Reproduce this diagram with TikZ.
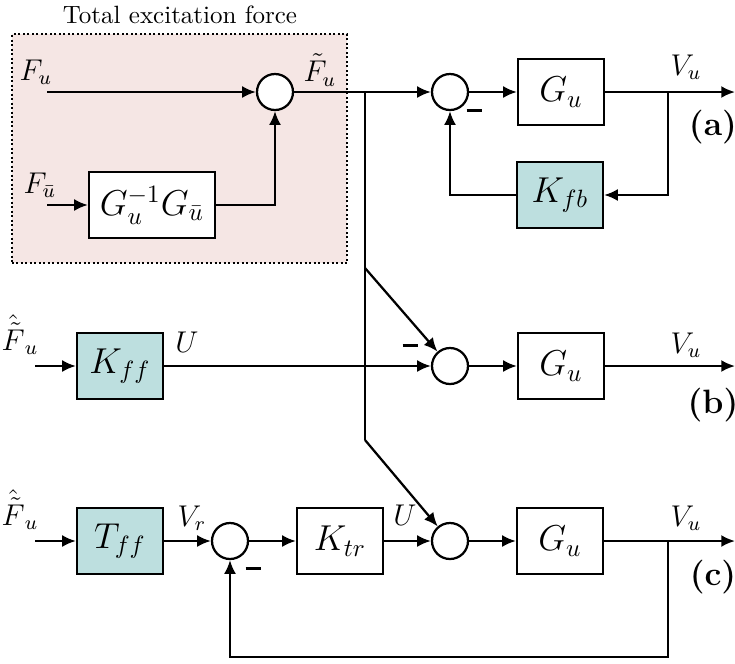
\documentclass[tikz,border=0pt]{standalone}
\usetikzlibrary{arrows.meta}
\definecolor{pinkbg}{RGB}{245,230,228}
\definecolor{tealbox}{RGB}{189,223,223}
\begin{document}
\begin{tikzpicture}[x=0.4pt,y=-0.4pt,
  blk/.style={draw,line width=0.9pt,minimum width=34.4pt,minimum height=26.4pt,inner sep=0pt,font=\Large,fill=white},
  gain/.style={blk,fill=tealbox},
  sumj/.style={draw,circle,line width=0.9pt,minimum size=14.4pt,inner sep=0pt,fill=white},
  sig/.style={line width=0.9pt,-{Latex[length=5.5pt,width=4.8pt]}},
  wire/.style={line width=0.9pt},
  lbl/.style={inner sep=0pt,font=\large},
  minus/.style={inner sep=0pt},
  tag/.style={font=\fontsize{13.5}{16}\selectfont\bfseries,inner sep=0pt}]
\useasboundingbox (0,0) rectangle (735,663);
% excitation region
\node (exc) [draw,densely dotted,line width=0.8pt,fill=pinkbg,minimum width=134pt,minimum height=91.6pt,inner sep=0pt] at (179.5,148.5) {};
\node (title) [inner sep=0pt] at (180,15) {Total excitation force};
% nodes
\node (s0) [sumj] at (275,92) {};
\node (G0) [blk,minimum width=50.4pt] at (152,205) {$G_u^{-1}G_{\bar u}$};
\coordinate (cFu) at (47,92);
\coordinate (cFub) at (47,205);
\node (lFu) [lbl] at (36,72) {$F_u$};
\node (lFub) [lbl] at (40,185) {$F_{\bar u}$};
\node (lFt) [lbl] at (320,70) {$\tilde F_u$};
% row (a)
\node (sa) [sumj] at (450,92) {};
\node (Ga) [blk] at (561,92) {$G_u$};
\node (Kfb) [gain] at (560,195) {$K_{fb}$};
\coordinate (ja) at (668,92);
\coordinate (oa) at (735,92);
\coordinate (br0) at (365,92);
\coordinate (br1) at (365,268);
\coordinate (br2) at (365,440);
% row (b)
\coordinate (ib) at (35,366);
\node (Kff) [gain] at (120,366) {$K_{ff}$};
\node (sb) [sumj] at (450,366) {};
\node (Gb) [blk] at (561,366) {$G_u$};
\coordinate (ob) at (735,366);
% row (c)
\coordinate (ic) at (35,541);
\node (Tff) [gain] at (120,541) {$T_{ff}$};
\node (sc1) [sumj] at (230,541) {};
\node (Ktr) [blk] at (340,541) {$K_{tr}$};
\node (sc2) [sumj] at (450,541) {};
\node (Gc) [blk] at (560,541) {$G_u$};
\coordinate (jc) at (668,541);
\coordinate (oc) at (735,541);
\coordinate (fbc) at (668,657);
% connectors
\draw[sig] (cFu) -- (s0);
\draw[sig] (cFub) -- (G0);
\draw[sig] (G0.east) -| (s0.south);
\draw[sig] (s0) -- (sa);
\draw[wire] (br0) -- (br2);
\draw[sig] (br1) -- (sb);
\draw[sig] (br2) -- (sc2);
\draw[sig] (sa) -- (Ga);
\draw[sig] (Ga) -- (oa);
\draw[sig] (ja) |- (Kfb.east);
\draw[sig] (Kfb.west) -| (sa.south);
\draw[sig] (ib) -- (Kff);
\draw[sig] (Kff) -- (sb);
\draw[sig] (sb) -- (Gb);
\draw[sig] (Gb) -- (ob);
\draw[sig] (ic) -- (Tff);
\draw[sig] (Tff) -- (sc1);
\draw[sig] (sc1) -- (Ktr);
\draw[sig] (Ktr) -- (sc2);
\draw[sig] (sc2) -- (Gc);
\draw[sig] (Gc) -- (oc);
\draw[sig] (jc) -- (fbc) -| (sc1.south);
% minus signs
\node (ma) [minus] at (474,110) {\rule{6pt}{1.2pt}};
\node (mb) [minus] at (410,345) {\rule{6pt}{1.2pt}};
\node (mc) [minus] at (253,568) {\rule{6pt}{1.2pt}};
% labels
\node (lVa) [lbl] at (686,67) {$V_u$};
\node (lVb) [lbl] at (686,345) {$V_u$};
\node (lVc) [lbl] at (686,518) {$V_u$};
\node (lUb) [lbl] at (187,342) {$U$};
\node (lUc) [lbl] at (405,515) {$U$};
\node (lVr) [lbl] at (192,518) {$V_r$};
\node (lFb) [lbl] at (20,335) {$\hat{\tilde F}_u$};
\node (lFc) [lbl] at (20,510) {$\hat{\tilde F}_u$};
\node (ta) [tag] at (713,127) {(a)};
\node (tb) [tag] at (713,405) {(b)};
\node (tc) [tag] at (713,577) {(c)};
\end{tikzpicture}
\end{document}
